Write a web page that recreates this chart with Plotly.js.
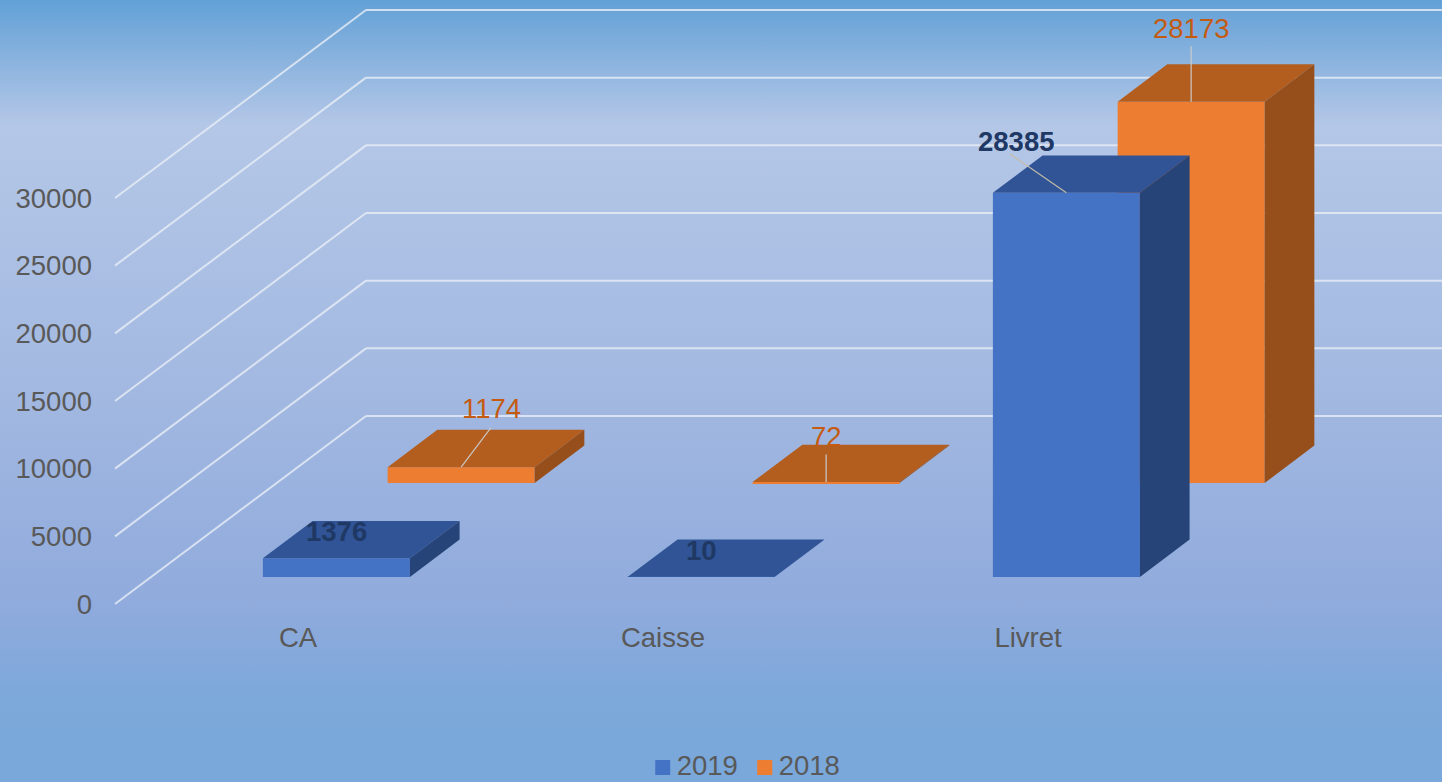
<!DOCTYPE html>
<html>
<head>
<meta charset="utf-8">
<script src="https://cdn.plot.ly/plotly-3.0.1.min.js"></script>
<style>
html,body{margin:0;padding:0;width:1442px;height:782px;overflow:hidden;
background:linear-gradient(180deg,#62a1d7 0px,#80aedc 45px,#b4c7e7 125px,#aec2e5 220px,#a3b9e1 380px,#8faadc 610px,#7ca8da 700px,#7aa8da 782px);}
#chart{width:1442px;height:782px;}
.legend .legendpoints path{transform:translate(26px,3px) scale(1.25);}
</style>
</head>
<body>
<div id="chart"></div>
<script>
// ---- data ----
const categories = ['CA', 'Caisse', 'Livret'];
const values2019 = [1376, 10, 28385];
const values2018 = [1174, 72, 28173];
const valueTicks = [0, 5000, 10000, 15000, 20000, 25000, 30000];

// ---- projection of the 3D look, in axis units ----
const W = 1442, H = 782;
const catPx = 365, unitPx = 406 / 30000;
const xRange = [-298 / catPx, (W - 298) / catPx];
const yRange = [-(H - 604) / unitPx, 604 / unitPx];
const depthX = 251 / catPx, depthY = 189 / unitPx;
const wallBack = 188 / 189;
const barW = 147 / catPx, shift = 2.5 / catPx;
const wallLeft = -183 / catPx, wallRight = xRange[1];

const px = (i, d) => i + shift + d * depthX;
const py = (v, d) => v + d * depthY;

function faces(vals, near, far) {
  const tx = [], ty = [], sx = [], sy = [];
  vals.forEach((v, i) => {
    const lN = px(i, near) - barW / 2, rN = px(i, near) + barW / 2;
    const lF = px(i, far) - barW / 2, rF = px(i, far) + barW / 2;
    tx.push(lN, rN, rF, lF, lN, null);
    ty.push(py(v, near), py(v, near), py(v, far), py(v, far), py(v, near), null);
    sx.push(rN, rF, rF, rN, rN, null);
    sy.push(py(0, near), py(0, far), py(v, far), py(v, near), py(0, near), null);
  });
  return {tx, ty, sx, sy};
}
function poly(x, y, color) {
  return {type: 'scatter', mode: 'lines', x, y, fill: 'toself', fillcolor: color,
          line: {width: 0, color}, showlegend: false, hoverinfo: 'skip'};
}
function series(name, vals, near, far, cFront, cTop, cSide, rank) {
  const f = faces(vals, near, far);
  return {
    front: {type: 'bar', name, legendrank: rank,
            x: vals.map((_, i) => px(i, near)), y: vals,
            base: vals.map(() => py(0, near)), width: barW,
            marker: {color: cFront, line: {width: 0}}, hoverinfo: 'name+text', text: vals.map(String), textposition: 'none'},
    top: poly(f.tx, f.ty, cTop),
    side: poly(f.sx, f.sy, cSide)
  };
}
const near18 = 0.64, far18 = 0.838, near19 = 0.143, far19 = 0.341;
const s18 = series('2018', values2018, near18, far18, '#ed7d31', '#b35d1f', '#964f1a', 2);
const s19 = series('2019', values2019, near19, far19, '#4472c4', '#305495', '#264478', 1);

// ---- walls ----
const gridStyle = {color: 'rgba(232,237,246,0.8)', width: 2};
const shapes = [];
valueTicks.forEach(v => {
  shapes.push({type: 'line', layer: 'below', xref: 'x', yref: 'y', x0: wallLeft, y0: py(v, 0),
               x1: wallLeft + depthX, y1: py(v, wallBack), line: gridStyle});
  shapes.push({type: 'line', layer: 'below', xref: 'x', yref: 'y', x0: wallLeft + depthX, y0: py(v, wallBack),
               x1: wallRight, y1: py(v, wallBack), line: gridStyle});
});

// ---- data labels and their leader lines ----
const fontFamily = '"Liberation Sans", Arial, sans-serif';
function label(i, v, d, color, bold, ax, ay) {
  return {xref: 'x', yref: 'y', x: px(i, d), y: py(v, d), text: bold ? '<b>' + v + '</b>' : String(v),
          font: {family: fontFamily, size: 27.5, color}, showarrow: false,
          xshift: ax, yshift: -ay, xanchor: 'center', yanchor: 'middle'};
}
function leader(i, v, d, ax, ay, color) {
  return {xref: 'x', yref: 'y', x: px(i, d), y: py(v, d), text: '', showarrow: true, arrowhead: 0,
          arrowwidth: 1.3, arrowcolor: color, ax, ay};
}
const navy = '#1f3864', rust = '#c55a11';
const annotations = [
  leader(2, values2019[2], near19, -58, -40, 'rgba(200,190,170,0.95)'),
  leader(0, values2018[0], near18, 31, -41, 'rgba(205,205,205,0.9)'),
  leader(1, values2018[1], near18, 0, -29, 'rgba(205,205,205,0.9)'),
  leader(2, values2018[2], near18, 0, -57, 'rgba(205,205,205,0.9)'),
  label(0, values2019[0], near19, navy, true, 0, -27),
  label(1, values2019[1], near19, navy, true, 0, -26),
  label(2, values2019[2], near19, navy, true, -50, -51),
  label(0, values2018[0], near18, rust, false, 30, -59),
  label(1, values2018[1], near18, rust, false, 0, -46),
  label(2, values2018[2], near18, rust, false, 0, -73)
];

const tickFont = {family: fontFamily, size: 27.5, color: '#595959'};
const layout = {
  width: W, height: H, autosize: false,
  margin: {l: 0, r: 0, t: 0, b: 0, autoexpand: false},
  paper_bgcolor: 'rgba(0,0,0,0)', plot_bgcolor: 'rgba(0,0,0,0)',
  barmode: 'overlay',
  showlegend: true,
  legend: {orientation: 'h', x: 0.5123, xanchor: 'center', y: -7 / H, yanchor: 'bottom', entrywidth: 57,
           font: {family: fontFamily, size: 27.5, color: '#595959'}, bgcolor: 'rgba(0,0,0,0)', itemwidth: 30,
           tracegroupgap: 0, itemclick: false, itemdoubleclick: false},
  xaxis: {range: xRange, type: 'linear', anchor: 'free', position: (H - 618) / H, tickmode: 'array',
          tickvals: categories.map((_, i) => i), ticktext: categories, tickfont: tickFont,
          showgrid: false, zeroline: false, showline: false, ticks: '', fixedrange: true},
  yaxis: {range: yRange, type: 'linear', anchor: 'free', position: 92 / W, tickmode: 'array',
          tickvals: valueTicks, ticktext: valueTicks.map(String), tickfont: tickFont,
          showgrid: false, zeroline: false, showline: false, ticks: '', fixedrange: true},
  shapes, annotations
};
const traces = [s18.front, s19.front, s18.top, s18.side, s19.top, s19.side];
Plotly.newPlot('chart', traces, layout, {displayModeBar: false, responsive: false});
</script>
</body>
</html>
